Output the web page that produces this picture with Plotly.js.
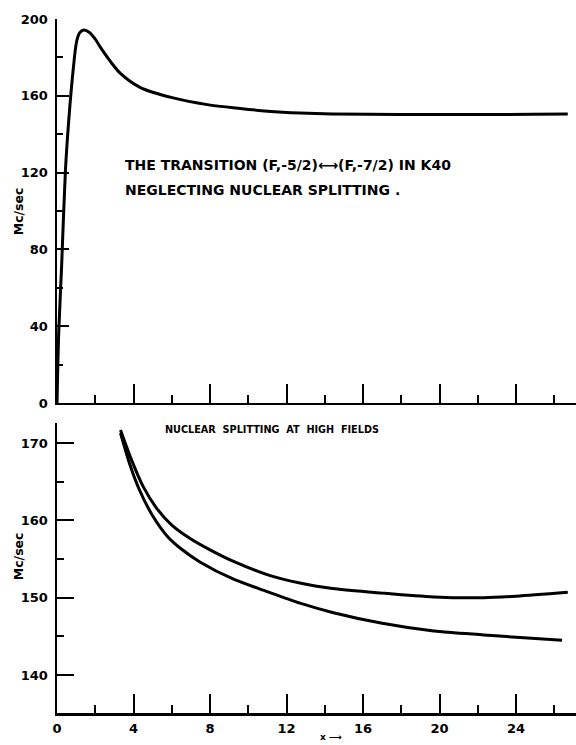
<!DOCTYPE html>
<html>
<head>
<meta charset="utf-8">
<script src="https://cdn.plot.ly/plotly-3.0.1.min.js"></script>
<style>
  html, body { margin: 0; padding: 0; background: #fff; }
  #chart { width: 576px; height: 745px; }
</style>
</head>
<body>
<div id="chart"></div>
<script>
// ---- Data ----
// Top panel: transition (F,-5/2) <-> (F,-7/2) in K40, neglecting nuclear splitting
const topX = [0, 0.09, 0.24, 0.44, 0.62, 0.85, 1.02, 1.18, 1.40, 1.7, 2.0, 2.3, 2.8, 3.3, 4.36, 6.08, 7.86, 9.58, 11.0, 12.7, 14.4, 17.9, 21.4, 24.9, 26.7];
const topY = [0, 36.5, 71, 121, 148, 174, 188, 192.8, 194.3, 193.0, 189.5, 184.8, 177.8, 171.8, 164.3, 158.9, 155.4, 153.4, 152.0, 151.0, 150.5, 150.3, 150.2, 150.4, 150.5];

// Bottom panel: nuclear splitting at high fields (two branches)
const upperX = [3.32, 3.9, 4.5, 5.2, 6.0, 7.0, 8.0, 9.23, 10.98, 12.7, 14.4, 17.0, 19.7, 22.3, 24.0, 26.7];
const upperY = [171.7, 167.8, 164.4, 161.6, 159.4, 157.6, 156.2, 154.7, 153.0, 151.9, 151.2, 150.6, 150.1, 150.0, 150.2, 150.7];
const lowerX = [3.32, 3.8, 4.3, 5.0, 5.75, 6.5, 7.49, 9.23, 10.98, 12.7, 14.4, 17.0, 19.7, 22.3, 24.0, 26.4];
const lowerY = [171.3, 167.3, 164.0, 160.6, 158.0, 156.3, 154.6, 152.4, 150.8, 149.3, 148.1, 146.7, 145.7, 145.2, 144.9, 144.5];

// Tick labels
const xTickVals = [0, 4, 8, 12, 16, 20, 24];
const topYTickVals = [0, 40, 80, 120, 160, 200];
const botYTickVals = [140, 150, 160, 170];

// Texts
const topNote1 = "THE TRANSITION (F,-5/2)\u27F7(F,-7/2) IN K40";
const topNote2 = "NEGLECTING NUCLEAR SPLITTING .";
const botNote = "NUCLEAR  SPLITTING  AT  HIGH  FIELDS";
const yTitle = "Mc/sec";
const xTitle = "x \u27F6";

// ---- Plot ----
const lineStyle = {color: '#000', width: 3, shape: 'spline', smoothing: 0.8};
const traces = [
  {x: topX, y: topY, mode: 'lines', line: lineStyle, xaxis: 'x', yaxis: 'y', hoverinfo: 'skip'},
  {x: upperX, y: upperY, mode: 'lines', line: lineStyle, xaxis: 'x2', yaxis: 'y2', hoverinfo: 'skip'},
  {x: lowerX, y: lowerY, mode: 'lines', line: lineStyle, xaxis: 'x2', yaxis: 'y2', hoverinfo: 'skip'}
];

const tickFont = {family: 'DejaVu Sans', size: 13, color: '#000', weight: 'bold'};
const noteFont = {family: 'DejaVu Sans', size: 14, color: '#000', weight: 'bold'};
const smallFont = {family: 'DejaVu Sans', size: 9.7, color: '#000', weight: 'bold'};
const yTitleFont = {family: 'DejaVu Sans', size: 12.5, color: '#000', weight: 'bold'};

const xBase = {
  range: [0, 27.13], showgrid: false, zeroline: false,
  showline: true, linecolor: '#000', linewidth: 2.5,
  ticks: 'inside', ticklen: 19, tickwidth: 2, tickcolor: '#000',
  tickvals: xTickVals, ticktext: xTickVals.map(String),
  minor: {dtick: 2, tick0: 0, ticks: 'inside', ticklen: 8, tickwidth: 2, tickcolor: '#000', showgrid: false},
  tickfont: tickFont, fixedrange: true
};

const layout = {
  width: 576, height: 745,
  margin: {l: 57, r: 0, t: 19, b: 32},
  paper_bgcolor: '#fff', plot_bgcolor: '#fff',
  showlegend: false,
  xaxis: Object.assign({}, xBase, {domain: [0, 1], anchor: 'y', showticklabels: false}),
  yaxis: {
    domain: [0.4467, 1], anchor: 'x', range: [0, 200],
    showgrid: false, zeroline: false,
    showline: true, linecolor: '#000', linewidth: 2.5,
    ticks: 'inside', ticklen: 12, tickwidth: 2, tickcolor: '#000',
    tickvals: topYTickVals, ticktext: topYTickVals.map(String),
    minor: {dtick: 20, tick0: 0, ticks: 'inside', ticklen: 6, tickwidth: 2, tickcolor: '#000', showgrid: false},
    tickfont: tickFont, ticklabelstandoff: 4, fixedrange: true
  },
  xaxis2: Object.assign({}, xBase, {domain: [0, 1], anchor: 'y2', showticklabels: true, ticklabelstandoff: 2}),
  yaxis2: {
    domain: [0, 0.4179], anchor: 'x2', range: [135.1, 172.6],
    showgrid: false, zeroline: false,
    showline: true, linecolor: '#000', linewidth: 2.5,
    ticks: 'inside', ticklen: 17, tickwidth: 2, tickcolor: '#000',
    tickvals: botYTickVals, ticktext: botYTickVals.map(String),
    minor: {dtick: 5, tick0: 135, ticks: 'inside', ticklen: 7, tickwidth: 2, tickcolor: '#000', showgrid: false},
    tickfont: tickFont, ticklabelstandoff: 4, fixedrange: true
  },
  annotations: [
    {text: topNote1, xref: 'paper', yref: 'paper', x: 0.127, y: 0.790, xanchor: 'left', yanchor: 'middle', showarrow: false, font: noteFont},
    {text: topNote2, xref: 'paper', yref: 'paper', x: 0.127, y: 0.753, xanchor: 'left', yanchor: 'middle', showarrow: false, font: noteFont},
    {text: botNote, xref: 'paper', yref: 'paper', x: 0.204, y: 0.408, xanchor: 'left', yanchor: 'middle', showarrow: false, font: smallFont},
    {text: yTitle, xref: 'paper', yref: 'paper', x: -0.075, y: 0.723, xanchor: 'center', yanchor: 'middle', textangle: -90, showarrow: false, font: yTitleFont},
    {text: yTitle, xref: 'paper', yref: 'paper', x: -0.075, y: 0.226, xanchor: 'center', yanchor: 'middle', textangle: -90, showarrow: false, font: yTitleFont},
    {text: xTitle, xref: 'paper', yref: 'paper', x: 0.528, y: -0.045, xanchor: 'center', yanchor: 'bottom', showarrow: false, font: {family: 'DejaVu Sans', size: 9, color: '#000', weight: 'bold'}}
  ]
};

Plotly.newPlot('chart', traces, layout, {displayModeBar: false, staticPlot: true});
</script>
</body>
</html>
